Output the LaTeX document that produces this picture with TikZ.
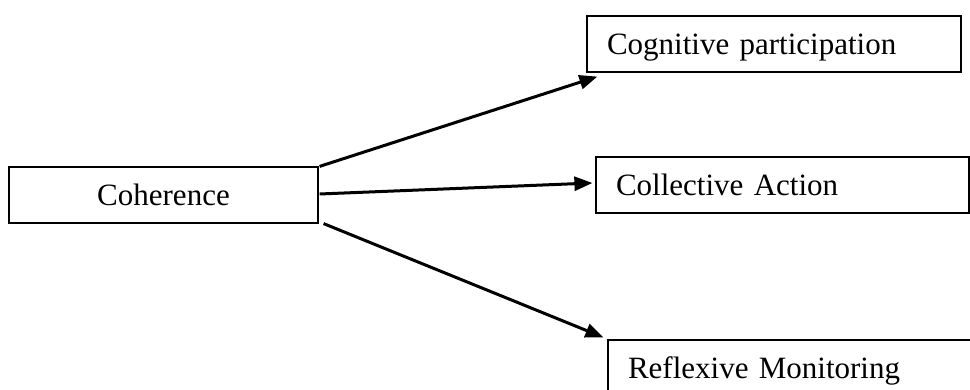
\documentclass[tikz,border=0pt]{standalone}
\usepackage{fontspec}
\setmainfont{Liberation Serif}
\usetikzlibrary{arrows.meta}

\tikzset{
  box/.style={draw, line width=1.2pt, rectangle, minimum height=56pt,
    inner ysep=0pt, text height=22pt, text depth=0pt,
    font=\fontsize{31}{37}\selectfont},
  leftbox/.style={box, inner xsep=20pt, align=left},
  link/.style={line width=3pt, -{Triangle[length=18pt,width=14pt]}}
}

\begin{document}
\begin{tikzpicture}[x=1pt,y=1pt]
  \useasboundingbox (0,0) rectangle (970,390);
  \clip (0,0) rectangle (970,390);

  % source concept
  \node[box, minimum width=309pt, align=center, inner xsep=0pt,
        text width=305pt] (coh) at (163.5,195) {Coherence};

  % target concepts
  \node[leftbox, minimum width=374pt, text width=334pt] (cog) at (774,346)
       {Cognitive participation};
  \node[leftbox, minimum width=373pt, text width=333pt] (col) at (782.5,205)
       {Collective Action};
  \node[leftbox, minimum width=376pt, text width=336pt] (ref) at (796,22)
       {Reflexive Monitoring};

  % connectors
  \draw[link] ([xshift=1pt]coh.north east) -- ([xshift=11pt,yshift=-4pt]cog.south west);
  \draw[link] ([xshift=1pt,yshift=1pt]coh.east) -- ([xshift=-3pt,yshift=2pt]col.west);
  \draw[link] ([xshift=5pt]coh.south east) -- ([xshift=-4pt,yshift=2pt]ref.north west);
\end{tikzpicture}
\end{document}
